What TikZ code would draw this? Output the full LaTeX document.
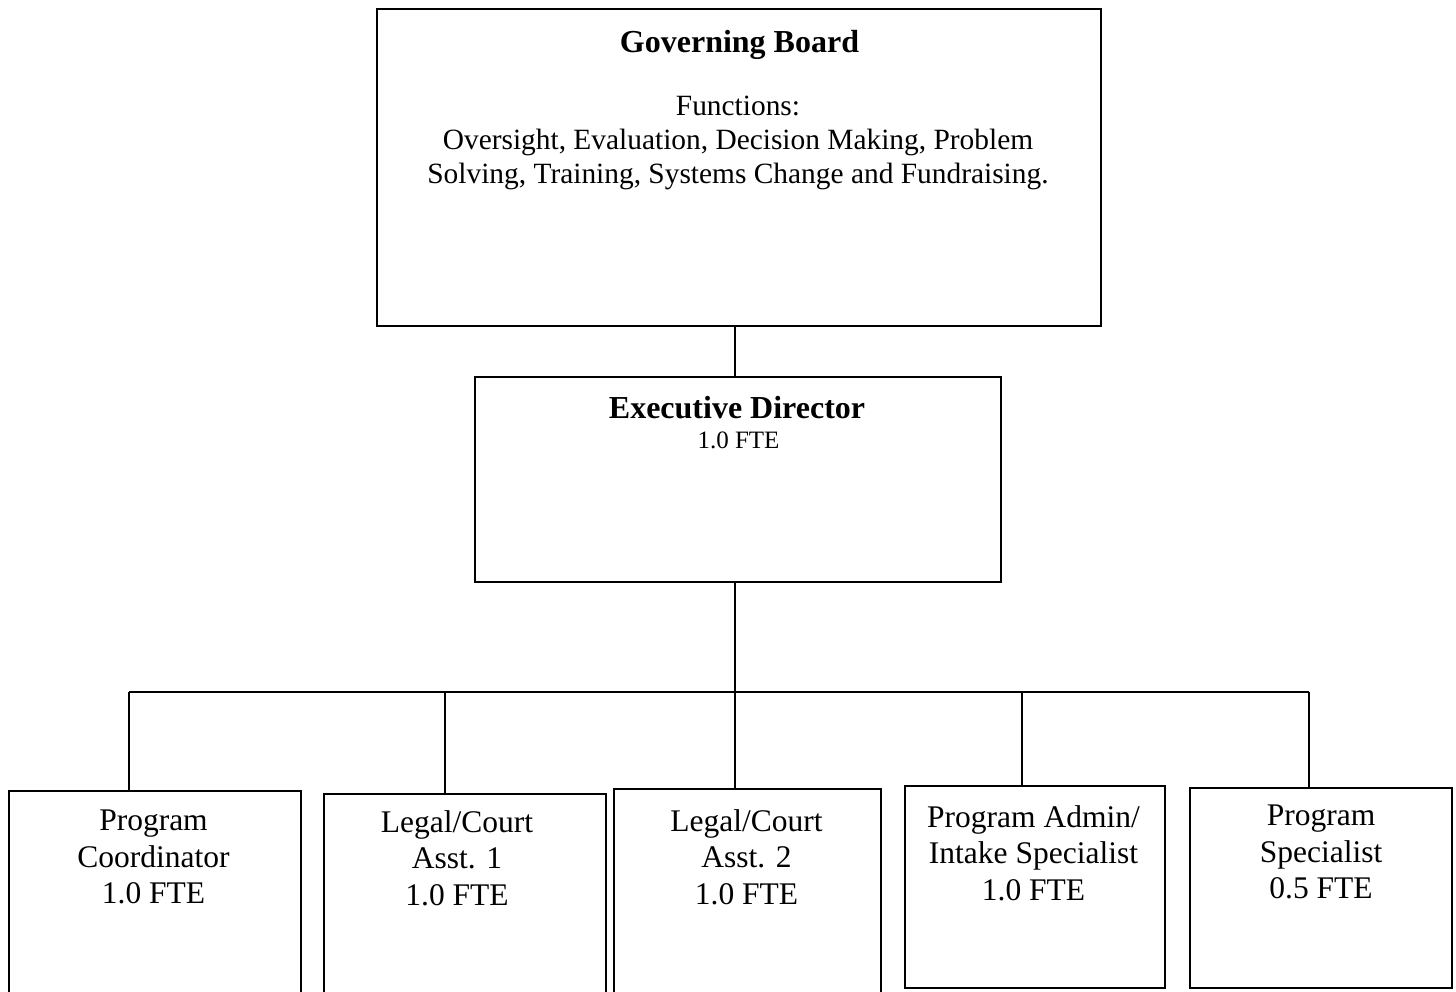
\documentclass[tikz,border=0pt]{standalone}
\usepackage{fontspec}
\setmainfont{Liberation Serif}
\begin{document}
\begin{tikzpicture}[x=1pt,y=-1pt,
  box/.style={draw, line width=2.1pt, rectangle, inner sep=0pt, anchor=north west},
  wire/.style={line width=2.1pt},
  lbl/.style={anchor=north, inner sep=0pt, align=center},
  bodyfont/.style={font=\fontsize{29.4}{34}\selectfont},
  titlefont/.style={font=\bfseries\fontsize{32}{36}\selectfont},
  smallfont/.style={font=\fontsize{25}{30}\selectfont},
  staff/.style={lbl, font=\fontsize{31.5}{36.5}\selectfont}]
\useasboundingbox (0,0) rectangle (1456,992);
\clip (0,0) rectangle (1456,992);
% boxes
\node[box, minimum width=724, minimum height=317] (gb) at (376,8) {};
\node[box, minimum width=526, minimum height=205] (ed) at (474,376) {};
\node[box, minimum width=292, minimum height=240] (b1) at (8,790) {};
\node[box, minimum width=282, minimum height=240] (b2) at (323,793) {};
\node[box, minimum width=267, minimum height=240] (b3) at (613,788) {};
\node[box, minimum width=260, minimum height=202] (b4) at (904,785) {};
\node[box, minimum width=262, minimum height=200] (b5) at (1189,787) {};
% texts
\node[lbl, titlefont] (gbt) at (739.5,30) {Governing Board};
\node[lbl, bodyfont] (gbf) at (738,95.5) {Functions:\\Oversight, Evaluation, Decision Making, Problem\\Solving, Training, Systems Change and Fundraising.};
\node[lbl, titlefont] (edt) at (737,396) {Executive Director};
\node[lbl, smallfont] (edf) at (738.5,432) {1.0 FTE};
\node[staff] (t1) at (153.5,810) {Program\\Coordinator\\1.0 FTE};
\node[staff] (t2) at (457,810) {Legal/Court\\Asst. 1\\1.0 FTE};
\node[staff] (t3) at (746.5,809) {Legal/Court\\Asst. 2\\1.0 FTE};
\node[staff] (t4) at (1033.5,805) {Program Admin/\\Intake Specialist\\1.0 FTE};
\node[staff] (t5) at (1321,805) {Program\\Specialist\\0.5 FTE};
% connectors
\coordinate (trunk) at (735,692);
\coordinate (d1) at (129,692);
\coordinate (d2) at (445,692);
\coordinate (d4) at (1022,692);
\coordinate (d5) at (1309,692);
\draw[wire] (trunk |- gb.south) -- (trunk |- ed.north);
\draw[wire] (trunk |- ed.south) -- (trunk);
\draw[wire] (d1) -- (d5);
\draw[wire] (d1) -- (d1 |- b1.north);
\draw[wire] (d2) -- (d2 |- b2.north);
\draw[wire] (trunk) -- (trunk |- b3.north);
\draw[wire] (d4) -- (d4 |- b4.north);
\draw[wire] (d5) -- (d5 |- b5.north);
\end{tikzpicture}
\end{document}
